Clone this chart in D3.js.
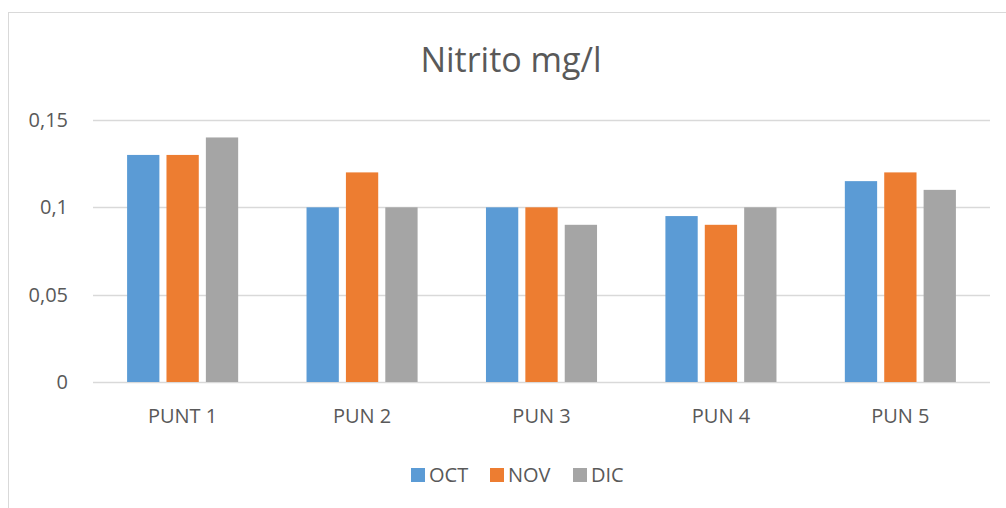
<!DOCTYPE html>
<html>
<head>
<meta charset="utf-8">
<script src="https://cdn.jsdelivr.net/npm/d3@7"></script>
<style>
  body { margin: 0; background: #fff; }
  svg text { font-family: "Open Sans", "Noto Sans", sans-serif; fill: #595959; }
</style>
</head>
<body>
<svg width="1006" height="508"></svg>
<script>
// chart data
const categories = ["PUNT 1", "PUN 2", "PUN 3", "PUN 4", "PUN 5"];
const seriesNames = ["OCT", "NOV", "DIC"];
const seriesColors = ["#5B9BD5", "#ED7D31", "#A5A5A5"];
const oct = [0.13, 0.1, 0.1, 0.095, 0.115];
const nov = [0.13, 0.12, 0.1, 0.09, 0.12];
const dic = [0.14, 0.1, 0.09, 0.1, 0.11];
const yTicks = [0, 0.05, 0.1, 0.15];

const series = [oct, nov, dic];

const svg = d3.select("svg");

// outer chart border (cropped on the right and bottom)
svg.append("rect")
  .attr("x", 8.5).attr("y", 12.5)
  .attr("width", 1020).attr("height", 520)
  .attr("fill", "none")
  .attr("stroke", "#d9d9d9")
  .attr("stroke-width", 1);

const margin = {top: 120, left: 93, right: 16, bottom: 126};
const width = 1006 - margin.left - margin.right;
const height = 508 - margin.top - margin.bottom;

const g = svg.append("g").attr("transform", `translate(${margin.left},${margin.top})`);

const x0 = d3.scaleBand().domain(categories).range([0, width]).paddingInner(0.381).paddingOuter(0.19);
const x1 = d3.scaleBand().domain(seriesNames).range([0, x0.bandwidth()]).paddingInner(0.18);
const y = d3.scaleLinear().domain([0, 0.15]).range([height, 0]);

const fmt = d => d3.format(",")(d).replace(".", ",");

// gridlines
g.append("g")
  .selectAll("line")
  .data(yTicks)
  .join("line")
    .attr("x1", 0).attr("x2", width)
    .attr("y1", d => Math.round(y(d)) + 0.5).attr("y2", d => Math.round(y(d)) + 0.5)
    .attr("stroke", "#d9d9d9")
    .attr("stroke-width", 1.3);

// y labels
g.append("g")
  .selectAll("text")
  .data(yTicks)
  .join("text")
    .attr("x", -25)
    .attr("y", d => y(d))
    .attr("dy", "0.35em")
    .attr("text-anchor", "end")
    .style("font-size", "20px")
    .text(d => d === 0 ? "0" : fmt(d));

// bars
const groups = g.selectAll(".cat")
  .data(categories)
  .join("g")
    .attr("class", "cat")
    .attr("transform", d => `translate(${x0(d)},0)`);

groups.selectAll("rect")
  .data((d, i) => seriesNames.map((s, j) => ({s, j, v: series[j][i]})))
  .join("rect")
    .attr("x", d => x1(d.s))
    .attr("y", d => y(d.v))
    .attr("width", x1.bandwidth())
    .attr("height", d => height - y(d.v))
    .attr("fill", d => seriesColors[d.j]);

// x labels
g.append("g")
  .selectAll("text")
  .data(categories)
  .join("text")
    .attr("x", d => x0(d) + x0.bandwidth() / 2)
    .attr("y", height + 41)
    .attr("text-anchor", "middle")
    .style("font-size", "20px")
    .text(d => d);

// title
svg.append("text")
  .attr("x", 511)
  .attr("y", 72)
  .attr("text-anchor", "middle")
  .style("font-size", "34px")
  .text("Nitrito mg/l");

// legend
const legendX = [411, 490, 573];
const legend = svg.append("g").selectAll("g")
  .data(seriesNames)
  .join("g")
    .attr("transform", (d, i) => `translate(${legendX[i]},468)`);
legend.append("rect")
  .attr("width", 14).attr("height", 14)
  .attr("fill", (d, i) => seriesColors[i]);
legend.append("text")
  .attr("x", 18).attr("y", 7)
  .attr("dy", "0.35em")
  .style("font-size", "20px")
  .text(d => d);
</script>
</body>
</html>
